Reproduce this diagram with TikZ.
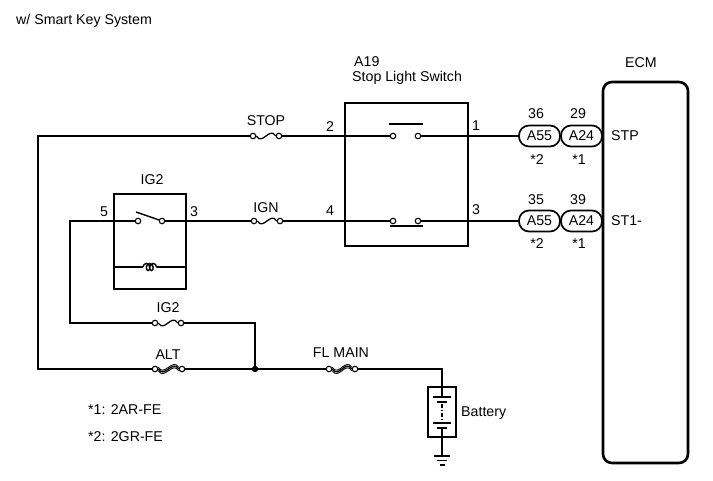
\documentclass[tikz,border=0pt]{standalone}
\usepackage{fontspec}
\setmainfont{Liberation Sans}
\usetikzlibrary{decorations.pathmorphing}
\tikzset{
  wire/.style={line width=1.4pt},
  term/.style={circle, draw, line width=1.1pt, minimum size=5.5pt, inner sep=0pt, fill=white},
  boxst/.style={draw, line width=2.1pt, inner sep=0pt},
  conn/.style={draw, rounded corners=10pt, minimum width=41pt, minimum height=21pt, inner sep=0pt, line width=1.7pt, font=\fontsize{14.2}{16}\selectfont},
  lbl/.style={font=\fontsize{14.2}{16}\selectfont, inner sep=0pt},
  fusecurve/.style={line width=1.3pt},
}
\newcommand{\simplefuse}[2]{\draw[fusecurve] (#1.east) .. controls +(6,10) and +(-6,-10) .. (#2.west);}
\newcommand{\heavyfuse}[2]{%
  \draw[fusecurve] (#1.east) .. controls +(6,10) and +(-6,-10) .. (#2.west);
  \draw[line width=0.9pt] ([yshift=-1.7pt]#1.east) .. controls +(6,10) and +(-6,-10) .. ([yshift=-1.7pt]#2.west);
  \draw[line width=0.9pt] ([yshift=1.7pt]#1.east) .. controls +(6,10) and +(-6,-10) .. ([yshift=1.7pt]#2.west);}
\begin{document}
\begin{tikzpicture}[x=1pt,y=-1pt]
\useasboundingbox (0,0) rectangle (713,481);

% title
\node[lbl, anchor=west] (title) at (16,21) {w/ Smart Key System};

% ECM
\node[draw, rounded corners=9pt, line width=2.6pt, minimum width=85pt, minimum height=381pt, inner sep=0pt] (ecm) at (645.5,272.5) {};
\node[lbl] (ecmlbl) at (641,63) {ECM};
\node[lbl, anchor=west] (stp) at (611,136) {STP};
\node[lbl, anchor=west] (st1) at (611,221) {ST1-};

% Stop light switch
\node[boxst, minimum width=123pt, minimum height=143pt] (sw) at (406.5,174.5) {};
\node[lbl, anchor=west] (a19) at (354,62) {A19};
\node[lbl, anchor=west] (swname) at (352,78) {Stop Light Switch};
\node[term] (c1) at (393,136) {};
\node[term] (c2) at (418,136) {};
\node[term] (c3) at (393,221) {};
\node[term] (c4) at (418,221) {};
\draw[line width=1.9pt] (389,124) coordinate (bar1a) -- (423,124) coordinate (bar1b);
\draw[line width=1.9pt] (390,226) coordinate (bar2a) -- (423,226) coordinate (bar2b);
\node[lbl] (p2) at (330,127) {2};
\node[lbl] (p1) at (476,126) {1};
\node[lbl] (p4) at (330,211) {4};
\node[lbl] (p3) at (476,210) {3};

% connectors
\node[conn] (a55t) at (539.5,136) {A55};
\node[conn] (a24t) at (581.5,136) {A24};
\node[conn] (a55b) at (539.5,221) {A55};
\node[conn] (a24b) at (581.5,221) {A24};
\node[lbl] (n36) at (536,114) {36};
\node[lbl] (n29) at (578,114) {29};
\node[lbl] (s2t) at (537,160) {*2};
\node[lbl] (s1t) at (579,160) {*1};
\node[lbl] (n35) at (536,200) {35};
\node[lbl] (n39) at (578,200) {39};
\node[lbl] (s2b) at (537,244) {*2};
\node[lbl] (s1b) at (579,244) {*1};

% IG2 relay
\node[boxst, minimum width=72pt, minimum height=95pt] (relay) at (150,241.5) {};
\node[lbl] (relaylbl) at (152,180) {IG2};
\node[lbl] (p5) at (104,212) {5};
\node[lbl] (p3r) at (194,212) {3};
\node[term] (rl) at (138,221) {};
\node[term] (rr) at (162,221) {};
\coordinate (bladetop) at (136,212);
\draw[wire] (bladetop) -- (rr);
\coordinate (coilL) at (114,267);
\coordinate (coilR) at (186,267);
\draw[wire] (coilL) -- (143,267);
\draw[wire] (157,267) -- (coilR);
\draw[line width=1.4pt, decorate, decoration={coil, aspect=0.7, segment length=3.4pt, amplitude=3.6pt}] (143,267) -- (157,267);

% fuses
\node[term] (stopL) at (253,136) {};
\node[term] (stopR) at (279,136) {};
\node[lbl] (stoplbl) at (266,121) {STOP};
\simplefuse{stopL}{stopR}
\node[term] (ignL) at (254,221) {};
\node[term] (ignR) at (280,221) {};
\node[lbl] (ignlbl) at (266,208) {IGN};
\simplefuse{ignL}{ignR}
\node[term] (igL) at (155,323) {};
\node[term] (igR) at (181,323) {};
\node[lbl] (iglbl) at (168,308) {IG2};
\simplefuse{igL}{igR}
\node[term] (altL) at (155,369) {};
\node[term] (altR) at (182,369) {};
\node[lbl] (altlbl) at (168,355) {ALT};
\heavyfuse{altL}{altR}
\node[term] (flL) at (329,369) {};
\node[term] (flR) at (355,369) {};
\node[lbl] (fllbl) at (341,353) {FL MAIN};
\heavyfuse{flL}{flR}

% wiring
\coordinate (topL) at (38,136);
\coordinate (botL) at (38,369);
\coordinate (inL) at (70,221);
\coordinate (inB) at (70,323);
\coordinate (igC) at (255,323);
\node[circle, fill, inner sep=0pt, minimum size=6.5pt] (junc) at (255,369) {};
\coordinate (batC) at (442,369);
\draw[wire] (c1) -- (stopR);
\draw[wire] (stopL) -- (topL) -- (botL) -- (altL);
\draw[wire] (altR) -- (junc.center) -- (flL);
\draw[wire] (flR) -- (batC) -- (442,397);
\draw[wire] (c2) -- (a55t);
\draw[wire] (c4) -- (a55b);
\draw[wire] (c3) -- (ignR);
\draw[wire] (ignL) -- (rr);
\draw[wire] (rl) -- (inL) -- (inB) -- (igL);
\draw[wire] (igR) -- (igC) -- (junc.center);

% battery
\node[boxst, minimum width=28pt, minimum height=50pt] (bat) at (442,412) {};
\node[lbl, anchor=west] (batlbl) at (461,413) {Battery};
\draw[line width=1.2pt] (433,397) -- (451,397);
\draw[line width=2.6pt] (437,402) -- (447,402);
\draw[line width=1.2pt, dash pattern=on 4pt off 2pt on 1pt off 2pt] (442,404) -- (442,421);
\draw[line width=1.2pt] (433,423) -- (451,423);
\draw[line width=2.6pt] (437,428) -- (447,428);
\coordinate (gnd) at (442,456);
\draw[wire] (442,428) -- (gnd);
\draw[line width=1.2pt] (434,456) -- (450,456);
\draw[line width=1.2pt] (437,460.5) -- (447,460.5);
\draw[line width=1.2pt] (439.5,465) -- (444.5,465);

% notes
\node[lbl, anchor=west] (note1) at (88,410) {*1: 2AR-FE};
\node[lbl, anchor=west] (note2) at (88,437) {*2: 2GR-FE};
\end{tikzpicture}
\end{document}
